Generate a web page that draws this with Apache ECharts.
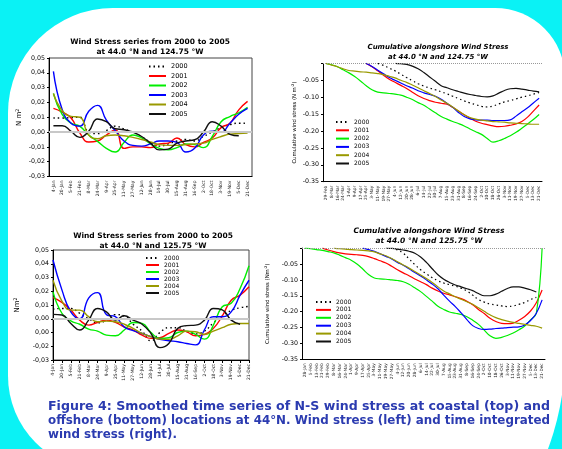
<!DOCTYPE html>
<html>
<head>
<meta charset="utf-8">
<script src="https://cdn.jsdelivr.net/npm/echarts@6.0.0/dist/echarts.min.js"></script>
<style>
html,body{margin:0;padding:0;background:#fff;}
#main{width:562px;height:449px;}
</style>
</head>
<body>
<div id="main"></div>
<script>
// categories
var tlDates = ['4-Jan','20-Jan','5-Feb','21-Feb','8-Mar','24-Mar','9-Apr','25-Apr','11-May','27-May','12-Jun','28-Jun','14-Jul','30-Jul','15-Aug','31-Aug','16-Sep','2-Oct','18-Oct','3-Nov','19-Nov','5-Dec','21-Dec'];
var trDates = ['29-Feb','8-Mar','16-Mar','24-Mar','1-Apr','9-Apr','17-Apr','25-Apr','3-May','11-May','19-May','27-May','4-Jun','12-Jun','20-Jun','28-Jun','6-Jul','14-Jul','22-Jul','30-Jul','7-Aug','15-Aug','23-Aug','31-Aug','8-Sep','16-Sep','24-Sep','2-Oct','10-Oct','18-Oct','26-Oct','3-Nov','11-Nov','19-Nov','27-Nov','5-Dec','13-Dec','21-Dec'];
var brDates = ['28-Jan','5-Feb','13-Feb','21-Feb','29-Feb','8-Mar','16-Mar','24-Mar','1-Apr','9-Apr','17-Apr','25-Apr','3-May','11-May','19-May','27-May','4-Jun','12-Jun','20-Jun','28-Jun','6-Jul','14-Jul','22-Jul','30-Jul','7-Aug','15-Aug','23-Aug','31-Aug','8-Sep','16-Sep','24-Sep','2-Oct','10-Oct','18-Oct','26-Oct','3-Nov','11-Nov','19-Nov','27-Nov','5-Dec','13-Dec','21-Dec'];

// tick labels
var tlYLabels = ['-0,03','-0,02','-0,01','0,00','0,01','0,02','0,03','0,04','0,05'];
var blYLabels = ['-0,03','-0,02','0,00','0,00','0,01','0,02','0,03','0,04','0,05'];
var rYLabels = ['-0.35','-0.30','-0.25','-0.20','-0.15','-0.10','-0.05',''];

var years = ['2000','2001','2002','2003','2004','2005'];

// wind stress, 44.0N 124.75W
var tl2000 = [0.0095,0.0095,0.0097,0.010,0.000,-0.001,0.001,0.004,0.002,0.000,-0.003,-0.007,-0.0095,-0.008,-0.006,-0.005,-0.006,-0.003,0.000,0.003,0.005,0.006,0.006];
var tl2001 = [0.016,0.0135,0.0095,-0.0007,-0.0067,-0.006,-0.002,0.0015,-0.011,-0.010,-0.010,-0.0105,-0.008,-0.0075,-0.004,-0.0085,-0.010,-0.007,-0.004,0.003,0.006,0.015,0.0207];
var tl2002 = [0.026,0.0117,0.006,0.0038,-0.002,-0.0063,-0.011,-0.0135,-0.007,-0.002,-0.004,-0.008,-0.011,-0.012,-0.0105,-0.008,-0.0085,-0.0105,-0.003,0.007,0.0105,0.013,0.0167];
var tl2003 = [0.041,0.015,0.006,0.004,0.014,0.018,0.008,0.001,-0.006,-0.009,-0.0095,-0.008,-0.006,-0.006,-0.007,-0.0135,-0.011,-0.002,0.0005,0.000,0.006,0.012,0.016];
var tl2004 = [0.026,0.0144,0.0106,0.010,-0.002,-0.0045,-0.0025,-0.002,-0.0025,-0.0036,-0.005,-0.0067,-0.0085,-0.009,-0.009,-0.0085,-0.008,-0.0075,-0.005,-0.003,-0.0014,-0.001,-0.0007];
var tl2005 = [0.0043,0.0043,0.0005,-0.0036,0.0005,0.0088,0.007,0.0022,0.0016,0.000,-0.003,-0.0075,-0.012,-0.0115,-0.0075,-0.006,-0.0052,0.000,0.007,0.004,-0.0015,-0.0025,null];

// wind stress, 44.0N 125.75W
var bl2000 = [0.007,0.0075,0.0075,0.004,0.000,-0.003,-0.001,0.003,0.002,-0.004,-0.009,-0.016,-0.010,-0.0065,-0.0065,-0.009,-0.011,-0.009,-0.003,0.002,0.006,0.008,0.009];
var bl2001 = [0.0153,0.0119,0.0063,-0.001,-0.0046,-0.0027,-0.001,-0.0027,-0.006,-0.0082,-0.0119,-0.0143,-0.0138,-0.0107,-0.0082,-0.0095,-0.0124,-0.0114,-0.007,0.002,0.0135,0.0172,0.0233];
var bl2002 = [0.0196,0.004,-0.0015,-0.004,-0.0075,-0.009,-0.0119,-0.0124,-0.0082,-0.0027,-0.0034,-0.010,-0.0143,-0.0138,-0.010,-0.009,-0.0114,-0.0148,-0.0046,0.0087,0.0112,0.022,0.0385];
var bl2003 = [0.0427,0.021,0.005,0.000,0.015,0.019,0.003,0.0015,-0.006,-0.0087,-0.0107,-0.013,-0.015,-0.016,-0.0167,-0.018,-0.019,-0.008,0.0015,0.0015,0.005,0.0172,0.028];
var bl2004 = [0.028,0.0128,0.0063,0.0063,0.0015,-0.0022,-0.0017,-0.0022,-0.004,-0.007,-0.0107,-0.013,-0.0148,-0.015,-0.0124,-0.009,-0.0095,-0.0114,-0.009,-0.0065,-0.004,-0.0034,-0.0034];
var bl2005 = [0.0032,0.0027,-0.0034,-0.0082,-0.001,0.0075,0.005,-0.001,0.0022,-0.001,-0.004,-0.0107,-0.021,-0.018,-0.007,-0.005,-0.0046,-0.001,0.0075,0.0065,-0.001,-0.004,null];

// cumulative, 44.0N 124.75W
var tr2000 = [null,null,null,null,null,null,null,null,null,0,-0.006,-0.014,-0.022,-0.032,-0.042,-0.051,-0.060,-0.067,-0.073,-0.078,-0.084,-0.090,-0.097,-0.104,-0.111,-0.117,-0.122,-0.127,-0.129,-0.126,-0.120,-0.114,-0.110,-0.105,-0.100,-0.096,-0.091,-0.086];
var tr2001 = [null,null,null,null,null,null,null,0,-0.010,-0.022,-0.035,-0.047,-0.056,-0.065,-0.074,-0.085,-0.096,-0.104,-0.110,-0.115,-0.118,-0.121,-0.130,-0.141,-0.152,-0.162,-0.171,-0.177,-0.181,-0.185,-0.187,-0.186,-0.183,-0.179,-0.172,-0.159,-0.141,-0.123];
var tr2002 = [0,-0.004,-0.010,-0.019,-0.028,-0.039,-0.052,-0.066,-0.078,-0.085,-0.087,-0.089,-0.091,-0.094,-0.100,-0.107,-0.116,-0.124,-0.135,-0.146,-0.157,-0.165,-0.172,-0.178,-0.185,-0.194,-0.202,-0.210,-0.222,-0.233,-0.229,-0.222,-0.214,-0.204,-0.192,-0.179,-0.166,-0.151];
var tr2003 = [null,null,null,null,null,null,null,0,-0.009,-0.020,-0.031,-0.042,-0.050,-0.058,-0.066,-0.073,-0.081,-0.087,-0.092,-0.097,-0.106,-0.118,-0.130,-0.145,-0.157,-0.164,-0.167,-0.168,-0.168,-0.169,-0.169,-0.169,-0.167,-0.156,-0.143,-0.131,-0.117,-0.103];
var tr2004 = [0,-0.005,-0.010,-0.016,-0.021,-0.023,-0.025,-0.026,-0.028,-0.030,-0.033,-0.038,-0.043,-0.050,-0.056,-0.064,-0.072,-0.081,-0.089,-0.098,-0.108,-0.118,-0.129,-0.141,-0.152,-0.160,-0.165,-0.168,-0.170,-0.172,-0.173,-0.174,-0.176,-0.177,-0.178,-0.179,-0.180,-0.180];
var tr2005 = [null,null,null,null,null,null,null,null,null,null,null,null,0,-0.001,-0.003,-0.008,-0.016,-0.027,-0.040,-0.053,-0.066,-0.072,-0.078,-0.083,-0.088,-0.092,-0.095,-0.098,-0.099,-0.096,-0.088,-0.080,-0.075,-0.074,-0.076,-0.079,-0.082,-0.084];

// cumulative, 44.0N 125.75W
var br2000 = [null,null,null,null,null,null,null,null,null,null,null,null,null,null,null,0,-0.006,-0.016,-0.034,-0.052,-0.068,-0.081,-0.093,-0.103,-0.110,-0.115,-0.120,-0.126,-0.135,-0.148,-0.162,-0.170,-0.176,-0.179,-0.182,-0.184,-0.182,-0.177,-0.171,-0.162,-0.155,null];
var br2001 = [null,null,null,0,-0.006,-0.011,-0.015,-0.018,-0.020,-0.021,-0.023,-0.027,-0.033,-0.040,-0.047,-0.057,-0.068,-0.078,-0.087,-0.097,-0.106,-0.115,-0.126,-0.135,-0.142,-0.147,-0.153,-0.159,-0.167,-0.178,-0.193,-0.206,-0.221,-0.231,-0.237,-0.238,-0.236,-0.227,-0.215,-0.198,-0.172,-0.132];
var br2002 = [0,-0.002,-0.005,-0.007,-0.011,-0.015,-0.022,-0.030,-0.038,-0.050,-0.066,-0.083,-0.094,-0.097,-0.098,-0.100,-0.102,-0.106,-0.114,-0.125,-0.137,-0.152,-0.167,-0.183,-0.193,-0.201,-0.205,-0.209,-0.216,-0.227,-0.240,-0.258,-0.276,-0.284,-0.281,-0.275,-0.267,-0.257,-0.245,-0.226,-0.205,0];
var br2003 = [null,null,null,null,null,null,null,null,null,null,0,-0.005,-0.010,-0.018,-0.026,-0.034,-0.045,-0.054,-0.065,-0.077,-0.088,-0.100,-0.113,-0.128,-0.148,-0.167,-0.184,-0.204,-0.225,-0.244,-0.253,-0.256,-0.255,-0.253,-0.252,-0.250,-0.249,-0.248,-0.242,-0.228,-0.205,-0.163];
var br2004 = [null,null,null,null,null,0,-0.002,-0.003,-0.005,-0.006,-0.007,-0.009,-0.012,-0.018,-0.024,-0.033,-0.043,-0.053,-0.063,-0.074,-0.085,-0.096,-0.108,-0.122,-0.135,-0.144,-0.153,-0.161,-0.169,-0.177,-0.188,-0.199,-0.210,-0.219,-0.225,-0.230,-0.234,-0.237,-0.240,-0.243,-0.246,-0.252];
var br2005 = [null,null,null,null,null,null,null,null,null,null,null,null,null,null,0,-0.001,-0.003,-0.006,-0.010,-0.016,-0.028,-0.045,-0.065,-0.084,-0.098,-0.108,-0.116,-0.122,-0.128,-0.134,-0.143,-0.150,-0.150,-0.145,-0.136,-0.127,-0.122,-0.122,-0.126,-0.131,-0.138,null];

var captionLines = [
    'Figure 4: Smoothed time series of N-S wind stress at coastal (top) and',
    'offshore (bottom) locations at 44°N. Wind stress (left) and time integrated',
    'wind stress (right).'
];

var lineColors = ['#000000','#ff0000','#00ee00','#0000ff','#999900','#111111'];
var font = 'DejaVu Sans';
var cyan = '#0af2f5';
var captionColor = '#2b3bb0';
var captionSize = 11.5;

var myChart = echarts.init(document.getElementById('main'));

function zeroGray() { return {color: '#c8c8c8', width: 2, type: 'solid'}; }
function topDots() { return {color: '#999', width: 1, type: 'dotted'}; }

function makeSeries(gi, arrs, smooth, zeroLine, width) {
    return arrs.map(function (d, k) {
        var s = {
            name: years[k],
            type: 'line',
            xAxisIndex: gi,
            yAxisIndex: gi,
            data: d,
            smooth: smooth,
            symbol: 'none',
            lineStyle: {color: lineColors[k], width: width, type: k === 0 ? [1.5, 3] : 'solid'},
            itemStyle: {color: lineColors[k]}
        };
        if (k === 0) {
            s.markLine = {
                silent: true, symbol: 'none', label: {show: false},
                lineStyle: zeroLine(),
                data: [{yAxis: 0}]
            };
        }
        return s;
    });
}

function xAxisFor(gi, dates, gap, labelSize) {
    return {
        gridIndex: gi, type: 'category', data: dates, boundaryGap: gap,
        axisLine: {onZero: false, lineStyle: {color: '#000', width: 1}},
        axisTick: {alignWithLabel: true, interval: 0, length: 3, lineStyle: {color: '#000'}},
        axisLabel: {interval: 0, rotate: 90, fontSize: labelSize, color: '#222', margin: 4, fontFamily: font}
    };
}

function yAxisFor(gi, min, max, step, labels, name, gap, nameSize) {
    return {
        gridIndex: gi, type: 'value', min: min, max: max, interval: step,
        splitLine: {show: false},
        axisLine: {show: true, onZero: false, lineStyle: {color: '#000'}},
        axisTick: {show: true, length: 2, lineStyle: {color: '#000'}},
        axisLabel: {fontSize: 6.3, color: '#000', margin: 4, fontFamily: font,
            formatter: function (v, i) { return labels[i]; }},
        name: name, nameLocation: 'middle', nameGap: gap,
        nameTextStyle: {fontSize: nameSize, color: '#000', fontFamily: font,
            rich: {s: {fontSize: nameSize * 0.7, padding: [0, 0, 4, 0], fontFamily: font}}}
    };
}

function legendAt(left, top, w, h, gap, size) {
    return {
        data: years, orient: 'vertical', left: left, top: top, padding: 0,
        itemWidth: w, itemHeight: h, itemGap: gap,
        itemStyle: {opacity: 0},
        textStyle: {fontSize: size, color: '#000', fontFamily: font}
    };
}

function textAt(x, y, str, size, weight, style, color, lh, align, sx) {
    return {
        type: 'text', x: x, y: y, z: 20, scaleX: sx || 1,
        style: {text: str, fill: color, fontSize: size, fontWeight: weight, fontStyle: style,
            fontFamily: font, align: align || 'center', verticalAlign: 'top', lineHeight: lh}
    };
}

// stretch the caption lines so they run the full text width, as in the justified original
var ctx = document.createElement('canvas').getContext('2d');
ctx.font = 'bold ' + captionSize + 'px "' + font + '"';
var captionWidth = 502;
var sx1 = captionWidth / ctx.measureText(captionLines[0]).width;
var sx2 = captionWidth / ctx.measureText(captionLines[1]).width;

option = {
    backgroundColor: cyan,
    animation: false,
    textStyle: {fontFamily: font},
    grid: [
        {left: 49, top: 58, width: 203, height: 118.5, show: true, borderColor: '#444', borderWidth: 1},
        {left: 323, top: 63.4, width: 219, height: 118.3},
        {left: 53, top: 250, width: 196, height: 110, show: true, borderColor: '#444', borderWidth: 1},
        {left: 302, top: 248.1, width: 243, height: 111.2}
    ],
    xAxis: [
        xAxisFor(0, tlDates, true, 4.5),
        xAxisFor(1, trDates, true, 4.3),
        xAxisFor(2, tlDates, false, 4.5),
        xAxisFor(3, brDates, true, 4.3)
    ],
    yAxis: [
        yAxisFor(0, -0.03, 0.05, 0.01, tlYLabels, 'N m{s|2}', 25, 7),
        yAxisFor(1, -0.35, 0, 0.05, rYLabels, 'Cumulative wind stress (N m{s|-2})', 24, 5.3),
        yAxisFor(2, -0.03, 0.05, 0.01, blYLabels, 'Nm{s|2}', 31, 7),
        yAxisFor(3, -0.35, 0, 0.05, rYLabels, 'Cumulative wind stress (Nm{s|-2})', 30, 5.3)
    ],
    legend: [
        legendAt(148, 63, 17, 7, 2.5, 6.5),
        legendAt(335, 119, 13, 6, 2.3, 6),
        legendAt(145, 255, 13, 6, 1, 6),
        legendAt(315, 299, 15, 6, 1.9, 6)
    ],
    graphic: [
        // slide frame: white page with rounded corners on a cyan ground
        {type: 'rect', z: -10, silent: true, shape: {x: 8, y: 8, width: 557, height: 800, r: [105, 70, 0, 0]}, style: {fill: '#fff'}},
        {type: 'rect', z: -10, silent: true, shape: {x: 0, y: 376, width: 102, height: 73}, style: {fill: cyan}},
        {type: 'rect', z: -10, silent: true, shape: {x: 297, y: 355, width: 265, height: 94}, style: {fill: cyan}},
        {type: 'circle', z: -10, silent: true, shape: {cx: 102, cy: 376, r: 94}, style: {fill: '#fff'}},
        {type: 'circle', z: -10, silent: true, shape: {cx: 297, cy: 355, r: 268}, style: {fill: '#fff'}},
        textAt(150, 37, 'Wind Stress series from 2000 to 2005\nat 44.0 °N and 124.75 °W', 7.5, 'bold', 'normal', '#000', 10),
        textAt(438, 41.7, 'Cumulative alongshore Wind Stress\nat 44.0 °N and 124.75 °W', 7, 'bold', 'italic', '#000', 10),
        textAt(153, 230.7, 'Wind Stress series from 2000 to 2005\nat 44.0 °N and 125.75 °W', 7.5, 'bold', 'normal', '#000', 10),
        textAt(429, 226.5, 'Cumulative alongshore Wind Stress\nat 44.0 °N and 125.75 °W', 7.5, 'bold', 'italic', '#000', 9.5),
        textAt(48, 400, captionLines[0], captionSize, 'bold', 'normal', captionColor, 14, 'left', sx1),
        textAt(48, 414, captionLines[1], captionSize, 'bold', 'normal', captionColor, 14, 'left', sx2),
        textAt(48, 428, captionLines[2], captionSize, 'bold', 'normal', captionColor, 14, 'left', sx2)
    ],
    series: [].concat(
        makeSeries(0, [tl2000, tl2001, tl2002, tl2003, tl2004, tl2005], 0.5, zeroGray, 1.4),
        makeSeries(1, [tr2000, tr2001, tr2002, tr2003, tr2004, tr2005], 0.4, topDots, 1.2),
        makeSeries(2, [bl2000, bl2001, bl2002, bl2003, bl2004, bl2005], 0.5, zeroGray, 1.4),
        makeSeries(3, [br2000, br2001, br2002, br2003, br2004, br2005], 0.4, topDots, 1.2)
    )
};
myChart.setOption(option);
window.addEventListener('resize', function () {
    myChart.resize();
});
</script>
</body>
</html>
